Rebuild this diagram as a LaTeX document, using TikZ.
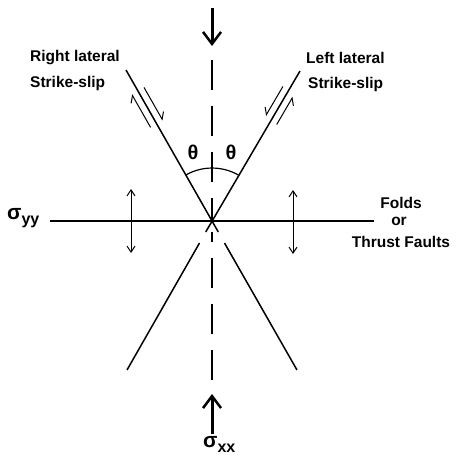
\documentclass[tikz,border=0pt]{standalone}
\usepackage{fontspec}
\setmainfont{Liberation Sans}
\usetikzlibrary{arrows.meta}
\begin{document}
\begin{tikzpicture}[x=1pt,y=-1pt,
  lbl/.style={font=\fontsize{15.5}{16}\selectfont\bfseries, inner sep=0pt},
  fault/.style={line width=1.5pt},
  slip/.style={line width=1pt},
  dbl/.style={line width=1pt, {Straight Barb[length=6pt,width=8pt]}-{Straight Barb[length=6pt,width=8pt]}},
  stress/.style={line width=3pt, -{Straight Barb[length=12pt,width=18pt,line width=2.5pt]}},
  axisdash/.style={line width=1.5pt, dash pattern=on 30pt off 16pt},
  harp/.style={-{Straight Barb[harpoon,length=6pt,width=10pt]}},
  harps/.style={-{Straight Barb[harpoon,swap,length=6pt,width=10pt]}}]
\useasboundingbox (0,0) rectangle (455,462);
\coordinate (O) at (212,221);
% faults
\coordinate (UL) at (126,70);
\coordinate (UR) at (300,71);
\coordinate (ULx) at (218.3,232);
\coordinate (URx) at (205.7,232);
\coordinate (LL1) at (199.5,243);
\coordinate (LL2) at (127,370);
\coordinate (LR1) at (224.5,243);
\coordinate (LR2) at (297,370);
\draw[fault] (UL) -- (ULx);
\draw[fault] (UR) -- (URx);
\draw[fault] (LL1) -- (LL2);
\draw[fault] (LR1) -- (LR2);
% horizontal line
\coordinate (H1) at (50,221);
\coordinate (H2) at (374,221);
\draw[line width=1.8pt] (H1) -- (H2);
% dashed axis
\coordinate (VT) at (212,60);
\coordinate (VB) at (212,380);
\coordinate (VC) at (212,232);
\draw[axisdash] (VT) -- (O);
\draw[axisdash] (VB) -- (VC);
% angle arc
\draw[line width=1.2pt] (185.8,175) arc[start angle=240.3, end angle=299.7, radius=53];
\node[lbl, font=\fontsize{20}{20}\selectfont\bfseries] (t1) at (193,152) {θ};
\node[lbl, font=\fontsize{20}{20}\selectfont\bfseries] (t2) at (231,152) {θ};
% stress arrows
\coordinate (ST1) at (212,8);
\coordinate (ST2) at (212,46);
\draw[stress] (ST1) -- (ST2);
\coordinate (SB1) at (212,434);
\coordinate (SB2) at (212,394);
\draw[stress] (SB1) -- (SB2);
% fold arrows
\coordinate (F1a) at (131,189);
\coordinate (F1b) at (131,253);
\coordinate (F2a) at (293,190);
\coordinate (F2b) at (293,254);
\draw[dbl] (F1a) -- (F1b);
\draw[dbl] (F2a) -- (F2b);
% slip half-arrows
\coordinate (a1) at (144.0,87.4);
\coordinate (a2) at (162.8,120.4);
\coordinate (b1) at (150.6,127.4);
\coordinate (b2) at (131.8,94.4);
\draw[slip,harp] (a1) -- (a2);
\draw[slip,harp] (b1) -- (b2);
\coordinate (c1) at (282.9,86.5);
\coordinate (c2) at (265.7,115.8);
\coordinate (d1) at (276.7,124.5);
\coordinate (d2) at (292.8,96.9);
\draw[slip,harps] (c1) -- (c2);
\draw[slip,harps] (d1) -- (d2);
% labels
\node[lbl, anchor=west] (rl1) at (30,58) {Right lateral};
\node[lbl, anchor=west] (rl2) at (30,83) {Strike-slip};
\node[lbl, anchor=west] (ll1) at (306,58) {Left lateral};
\node[lbl, anchor=west] (ll2) at (308,84) {Strike-slip};
\node[lbl] (fo) at (401,203) {Folds};
\node[lbl] (or) at (399,221) {or};
\node[lbl] (tf) at (401,242) {Thrust Faults};
\node[lbl, anchor=west, font=\fontsize{21}{21}\selectfont\bfseries] (syy) at (7,218) {σ\raisebox{-5pt}{\fontsize{16}{16}\selectfont yy}};
\node[lbl, anchor=west, font=\fontsize{21}{21}\selectfont\bfseries] (sxx) at (203,444) {σ\raisebox{-5pt}{\fontsize{16}{16}\selectfont xx}};
\end{tikzpicture}
\end{document}
